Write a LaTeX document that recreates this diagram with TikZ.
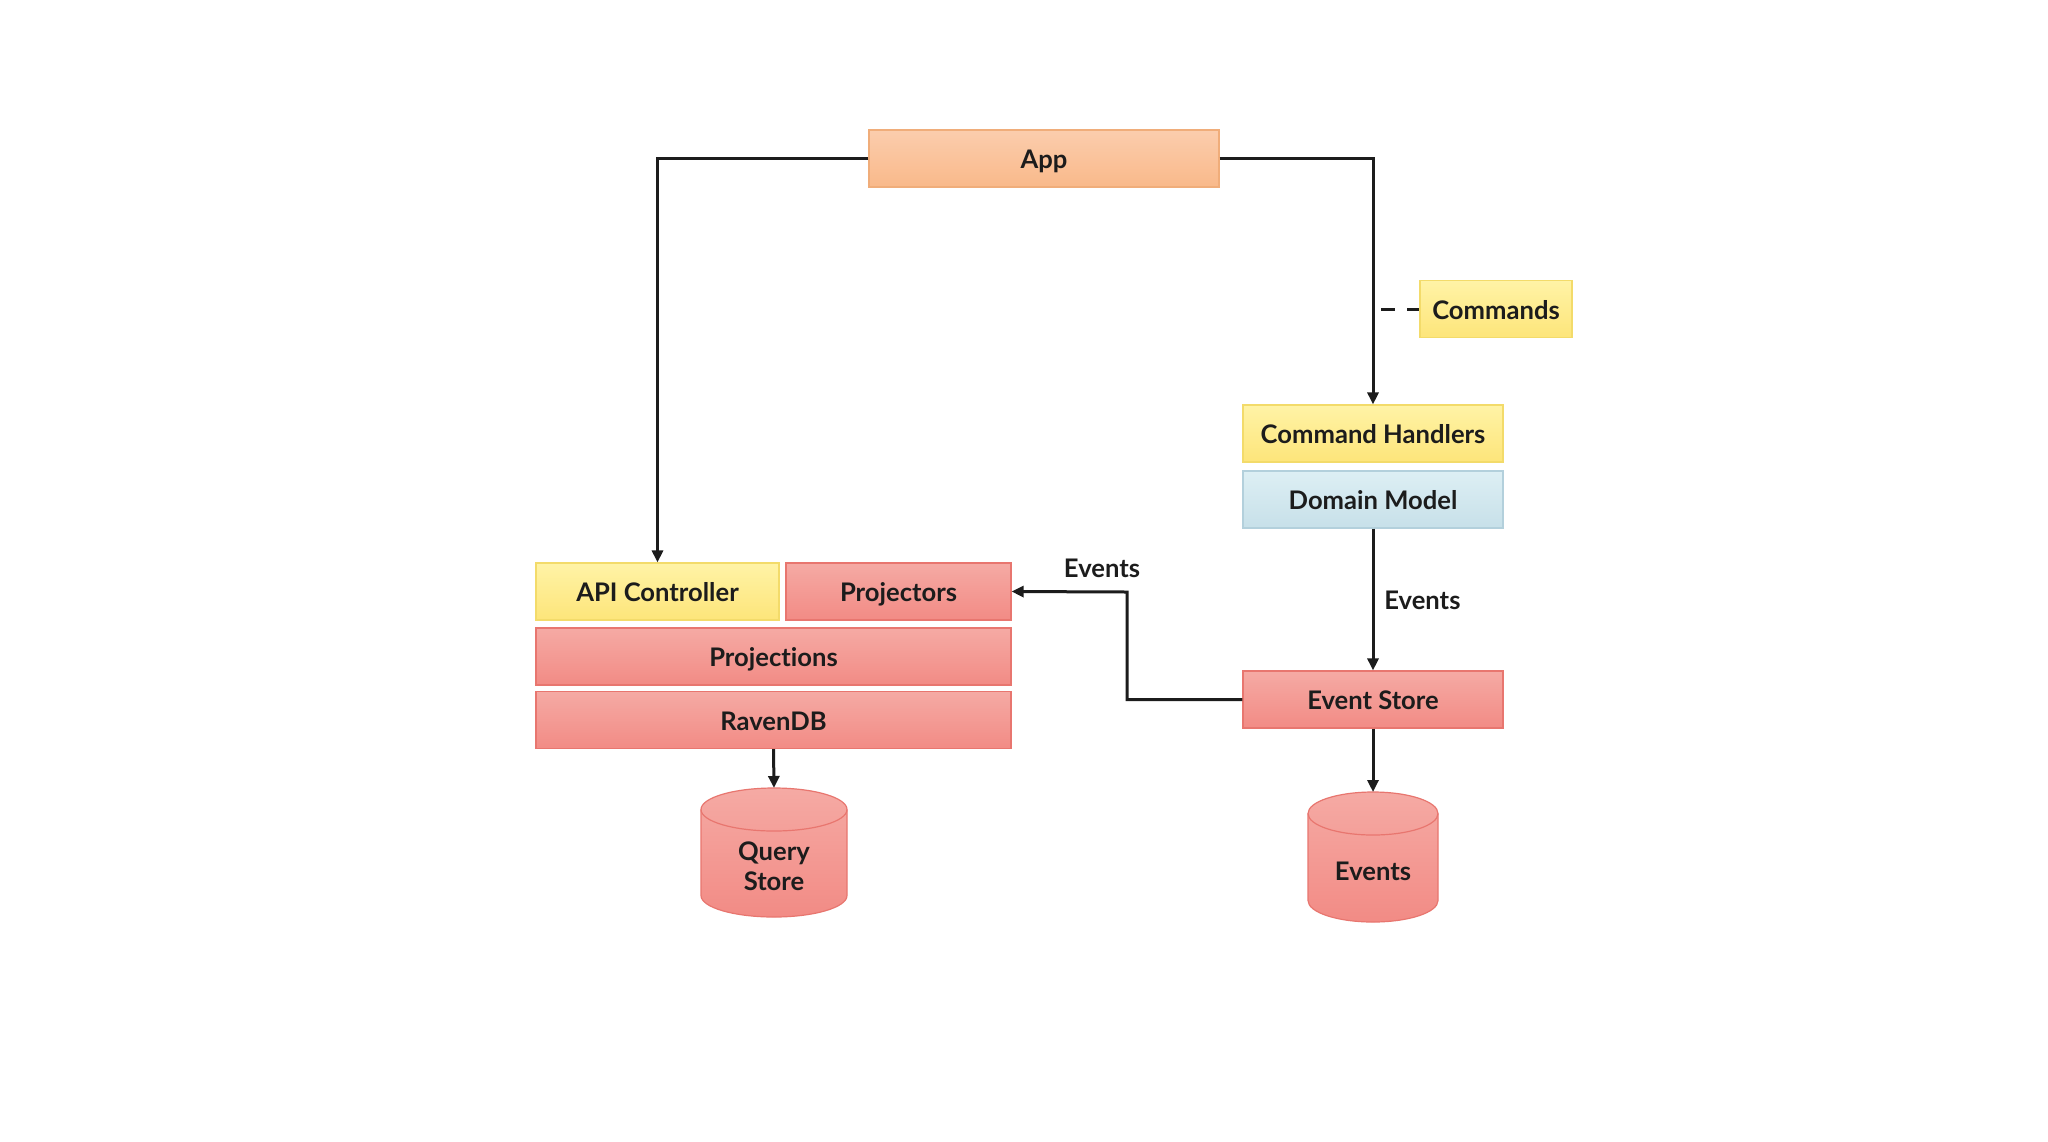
\documentclass[tikz,border=0pt]{standalone}
\usepackage{fontspec}
\setmainfont{Lato}[Ligatures=NoCommon]
\usetikzlibrary{arrows.meta}
\definecolor{redT}{HTML}{F5AAA4}
\definecolor{redB}{HTML}{F28B85}
\definecolor{redD}{HTML}{E8766F}
\definecolor{yelT}{HTML}{FFF3A6}
\definecolor{yelB}{HTML}{FDE57A}
\definecolor{yelD}{HTML}{F3DB6A}
\definecolor{orT}{HTML}{FBCDAD}
\definecolor{orB}{HTML}{F9B98A}
\definecolor{orD}{HTML}{F0AD7A}
\definecolor{bluT}{HTML}{DDEFF4}
\definecolor{bluB}{HTML}{C7E0E9}
\definecolor{bluD}{HTML}{B3D0DC}
\definecolor{ink}{HTML}{1C1C1C}
\begin{document}
\begin{tikzpicture}[x=0.5pt,y=-0.5pt,
  lbl/.style={inner sep=0pt, font=\fontsize{12.8}{15}\selectfont\bfseries, text=ink},
  box/.style={lbl, draw, line width=0.6pt, text height=10pt, text depth=0pt, minimum height=28.5pt},
  redbox/.style={box, draw=redD, top color=redT, bottom color=redB},
  yelbox/.style={box, draw=yelD, top color=yelT, bottom color=yelB},
  orbox/.style={box, draw=orD, top color=orT, bottom color=orB},
  blubox/.style={box, draw=bluD, top color=bluT, bottom color=bluB},
  conn/.style={draw=ink, line width=1.5pt, -{Triangle[length=6pt,width=5.5pt]}},
  dashconn/.style={draw=ink, line width=1.5pt, dash pattern=on 7pt off 6pt},
  cylfill/.style={top color=redT, bottom color=redB},
  cylline/.style={draw=redD, line width=0.6pt},
  anchorbox/.style={inner sep=0pt, outer sep=0pt}
]
\useasboundingbox[fill=white] (0,0) rectangle (2048,1141);

% boxes
\node[orbox, minimum width=175pt] (app) at (1044,158.5) {App};
\node[yelbox, minimum width=76pt] (cmd) at (1496,309) {Commands};
\node[yelbox, minimum width=130pt] (ch) at (1373,433.5) {Command Handlers};
\node[blubox, minimum width=130pt] (dm) at (1373,499.5) {Domain Model};
\node[redbox, minimum width=130pt] (es) at (1373,699.5) {Event Store};
\node[yelbox, minimum width=121.5pt] (api) at (657.5,591.5) {API Controller};
\node[redbox, minimum width=112.5pt] (proj) at (898.5,591.5) {Projectors};
\node[redbox, minimum width=237.5pt] (pjs) at (773.5,656.5) {Projections};
\node[redbox, minimum width=237.5pt] (rdb) at (773.5,720) {RavenDB};

% Query Store cylinder
\shade[cylfill] (701,809.5) -- (701,895.5) arc[start angle=180, end angle=0, x radius=73, y radius=21.5]
  -- (847,809.5) arc[start angle=0, end angle=-180, x radius=73, y radius=21.5] -- cycle;
\draw[cylline] (701,809.5) -- (701,895.5) arc[start angle=180, end angle=0, x radius=73, y radius=21.5]
  -- (847,809.5) arc[start angle=0, end angle=-180, x radius=73, y radius=21.5];
\draw[cylline] (701,809.5) arc[start angle=180, end angle=0, x radius=73, y radius=21.5];
\node[anchorbox, minimum width=73pt, minimum height=64.5pt] (qs) at (774,852.5) {};
\node[lbl, align=center] (qstext) at (774,866) {Query\\Store};

% Events cylinder
\shade[cylfill] (1308,813.5) -- (1308,900.5) arc[start angle=180, end angle=0, x radius=65, y radius=21.5]
  -- (1438,813.5) arc[start angle=0, end angle=-180, x radius=65, y radius=21.5] -- cycle;
\draw[cylline] (1308,813.5) -- (1308,900.5) arc[start angle=180, end angle=0, x radius=65, y radius=21.5]
  -- (1438,813.5) arc[start angle=0, end angle=-180, x radius=65, y radius=21.5];
\draw[cylline] (1308,813.5) arc[start angle=180, end angle=0, x radius=65, y radius=21.5];
\node[anchorbox, minimum width=65pt, minimum height=65pt] (ev) at (1373,857) {};
\node[lbl, text height=10pt, text depth=0pt] (evtext) at (1373,870) {Events};

% connectors
\coordinate (dashstart) at (1381,309);
\coordinate (elb) at (1127,592);
\draw[conn] (app.west) -| (api.north);
\draw[conn] (app.east) -| (ch.north);
\draw[dashconn] (dashstart) -- (cmd.west);
\draw[conn] (dm.south) -- (es.north);
\draw[conn] (es.west) -| (elb) -- (proj.east);
\draw[conn] (rdb.south) -- (qs.north);
\draw[conn] (es.south) -- (ev.north);

% labels
\node[lbl, text height=10pt, text depth=0pt] (evlbl1) at (1102,567) {Events};
\node[lbl, anchor=west, text height=10pt, text depth=0pt] (evlbl2) at (1384,599) {Events};
\end{tikzpicture}
\end{document}
